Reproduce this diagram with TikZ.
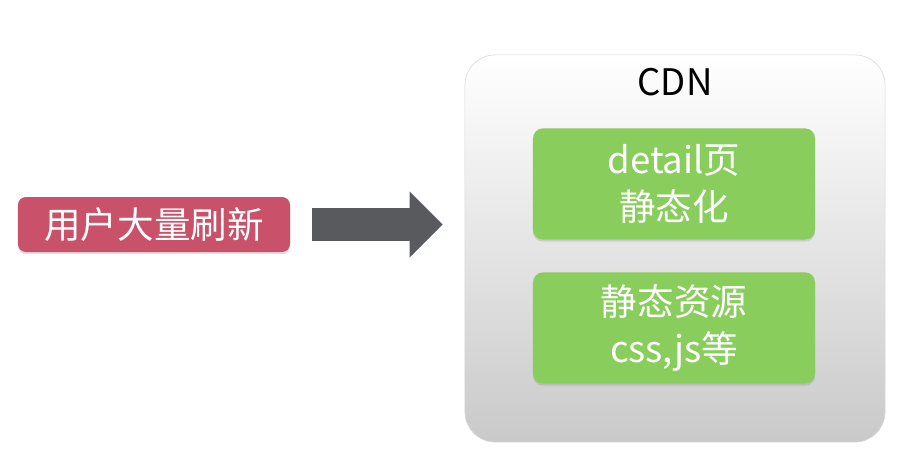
\documentclass[tikz,border=0pt]{standalone}
\usepackage{fontspec}
\setmainfont{Noto Sans CJK SC}
\usetikzlibrary{arrows.meta,shadows}
\definecolor{userred}{RGB}{201,82,106}
\definecolor{arrowgray}{RGB}{88,90,93}
\definecolor{boxgreen}{RGB}{137,206,92}
\tikzset{>=stealth,
  softshadow/.style={drop shadow={shadow xshift=0pt,shadow yshift=-1.5pt,opacity=0.25}},
  redbox/.style={fill=userred,text=white,rounded corners=0.2cm,minimum width=6.8cm,minimum height=1.375cm,softshadow},
  greenbox/.style={fill=boxgreen,text=white,rounded corners=0.25cm,minimum width=7.05cm,minimum height=2.78cm,align=center,softshadow},
  cdnbox/.style={draw=black!15,top color=white,bottom color=black!21,rounded corners=0.75cm,minimum width=10.5cm,minimum height=9.675cm}
}

\begin{document}
\begin{tikzpicture}[x=0.025cm,y=-0.025cm,font=\fontsize{26}{33}\selectfont]
      \useasboundingbox[fill=white] (0,0) rectangle (924,470);
      % user side
      \node[redbox] at (154,224.5)   (user) {用户大量刷新};
      % cdn box with its two parts
      \node[cdnbox] at (675,248.5)   (cdn) {};
      \node[] at (675,82)   (cdnlabel) {CDN};
      \node[greenbox] at (674,184)   (detail) {detail页\\静态化};
      \node[greenbox] at (674,328)   (static) {静态资源\\css,js等};
      % big arrow
      \draw[arrowgray,line width=0.825cm,shorten <=0.55cm,shorten >=0.55cm,-{Triangle[length=0.825cm,width=1.6cm]}]
        (user.east) -- (user.east -| cdn.west);
\end{tikzpicture}
\end{document}
